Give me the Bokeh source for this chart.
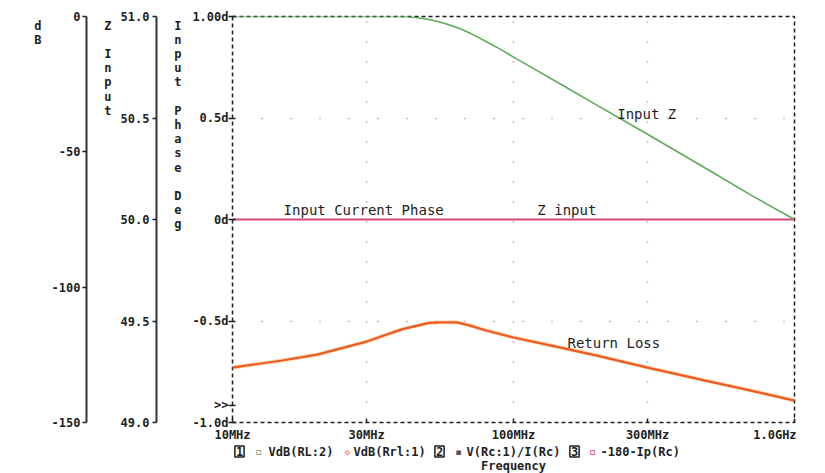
from bokeh.plotting import figure
from bokeh.models import Range1d, LinearAxis, FixedTicker, Label
from bokeh.layouts import column
from bokeh.embed import file_html
from bokeh.resources import INLINE

# ---- data ----
freq_z = [10, 20, 30, 40, 42, 45, 50, 55, 60, 65, 70, 75, 80, 90, 100, 120, 150, 200, 300,
          500, 700, 1000]
z_input = [51.0, 51.0, 51.0, 51.0, 50.999, 50.995, 50.985, 50.972, 50.956, 50.938, 50.918,
           50.897, 50.876, 50.838, 50.80, 50.737, 50.66, 50.56, 50.42, 50.24, 50.12, 50.0]

freq_rl = [10, 15, 20, 30, 40, 50, 55, 63, 70, 80, 100, 150, 200, 300, 500, 700, 1000]
return_loss_db = [-129.7, -127.1, -124.9, -120.1, -115.6, -113.2, -113.0, -113.0, -114.2,
                  -116.0, -118.6, -122.5, -125.4, -129.7, -134.9, -138.2, -141.9]

freq_ph = [10, 1000]
phase_deg = [0.0, 0.0]

x_ticks = [10, 30, 100, 300, 1000]
x_tick_labels = ["10MHz", "30MHz", "100MHz", "300MHz", "1.0GHz"]
ph_ticks = [-1.0, -0.916, -0.5, 0.0, 0.5, 1.0]
ph_tick_labels = ["-1.0d", ">>", "-0.5d", "0d", "0.5d", "1.00d"]
z_ticks = [49.0, 49.5, 50.0, 50.5, 51.0]
z_tick_labels = ["49.0", "49.5", "50.0", "50.5", "51.0"]
db_ticks = [-150, -100, -50, 0]
db_tick_labels = ["-150", "-100", "-50", "0"]

title_db = ["d", "B"]
title_z = ["Z", "", "I", "n", "p", "u", "t"]
title_phase = ["I", "n", "p", "u", "t", "", "P", "h", "a", "s", "e", "", "D", "e", "g"]

legend_items = ["VdB(RL:2)", "VdB(Rrl:1)", "V(Rc:1)/I(Rc)", "-180-Ip(Rc)"]
x_title = "Frequency"

FONT = "DejaVu Sans Mono"
INK = "#1e1e1e"
GREEN = "#5aac5a"
PINK = "#d8457a"
ORANGE = "#ee5a22"
NB = "\u00a0"

FRAME_L, FRAME_R, FRAME_T, FRAME_B = 232, 794, 16, 422
W, H_MAIN, H_LEG = 825, 444, 29

p = figure(width=W, height=H_MAIN, x_axis_type="log",
           x_range=Range1d(10, 1000), y_range=Range1d(-1, 1),
           output_backend="svg", toolbar_location=None,
           min_border_left=FRAME_L, min_border_right=W - FRAME_R,
           min_border_top=FRAME_T, min_border_bottom=H_MAIN - FRAME_B)
# "py" maps pixel rows of the frame (used only to place the stacked axis titles)
p.extra_y_ranges = {"z": Range1d(49, 51), "db": Range1d(-150, 0),
                    "py": Range1d(FRAME_B, FRAME_T)}

p.outline_line_color = INK
p.outline_line_width = 1.5
p.outline_line_dash = "4 3"
p.background_fill_color = "white"
p.border_fill_color = "white"


def style_axis(ax, ticks, labels, standoff, tick_out=4, tick_in=0):
    ax.ticker = FixedTicker(ticks=ticks)
    ax.major_label_overrides = {t: l for t, l in zip(ticks, labels)}
    ax.minor_tick_line_color = None
    ax.minor_tick_out = 0
    ax.minor_tick_in = 0
    ax.major_tick_out = tick_out
    ax.major_tick_in = tick_in
    ax.major_tick_line_color = INK if tick_out or tick_in else None
    ax.major_tick_line_width = 1.5
    ax.major_label_standoff = standoff
    ax.major_label_text_font = FONT
    ax.major_label_text_font_style = "bold"
    ax.major_label_text_font_size = "12px"
    ax.major_label_text_color = INK


def title_axis(letters, standoff, pad):
    pos, lab = [], []
    for i, ch in enumerate(letters):
        if ch:
            pos.append(FRAME_T + 9 + 14.2 * i)
            lab.append(NB * pad + ch)
    ax = LinearAxis(y_range_name="py")
    style_axis(ax, pos, lab, standoff, tick_out=0)
    ax.axis_line_color = None
    return ax


# phase axis (main, nearest the frame)
yax = p.yaxis[0]
style_axis(yax, ph_ticks, ph_tick_labels, 0, tick_out=4, tick_in=3)
yax.axis_line_color = None

p.add_layout(title_axis(title_phase, 8, 2), "left")

# Z input axis
zax = LinearAxis(y_range_name="z")
style_axis(zax, z_ticks, z_tick_labels, 3)
zax.axis_line_color = "#333333"
zax.axis_line_width = 2
p.add_layout(zax, "left")

p.add_layout(title_axis(title_z, 6, 2), "left")

# dB axis
dax = LinearAxis(y_range_name="db")
style_axis(dax, db_ticks, db_tick_labels, 2)
dax.axis_line_color = "#333333"
dax.axis_line_width = 2
p.add_layout(dax, "left")

p.add_layout(title_axis(title_db, 7, 0), "left")

# x axis
xax = p.xaxis[0]
style_axis(xax, x_ticks, x_tick_labels[:-1] + [x_tick_labels[-1] + NB * 4], 5, tick_out=0, tick_in=4)
xax.axis_line_color = None

# grid
p.xgrid.ticker = FixedTicker(ticks=x_ticks[1:-1])
p.xgrid.grid_line_color = "#555555"
p.xgrid.grid_line_alpha = 0.7
p.xgrid.grid_line_width = 1.5
p.xgrid.grid_line_dash = "1 19"
p.ygrid.ticker = FixedTicker(ticks=[-0.5, 0.5])
p.ygrid.grid_line_color = "#555555"
p.ygrid.grid_line_alpha = 0.7
p.ygrid.grid_line_width = 1.5
p.ygrid.grid_line_dash = "1 28"

# traces
p.line(freq_rl, return_loss_db, y_range_name="db", line_color="#f6b870", line_width=4, line_alpha=0.5)
p.line(freq_rl, return_loss_db, y_range_name="db", line_color=ORANGE, line_width=2.2)
p.line(freq_ph, phase_deg, line_color=PINK, line_width=2)
p.line(freq_z, z_input, y_range_name="z", line_color=GREEN, line_width=1.6)

# curve annotations (data coords)
for txt, fx, fy in [("Input Z", 234, 0.52), ("Input Current Phase", 15.2, 0.045),
                    ("Z input", 121.6, 0.045), ("Return Loss", 155.6, -0.61)]:
    p.add_layout(Label(x=fx, y=fy, text=txt, text_font=FONT, text_font_size="14px",
                       text_color=INK, text_align="left", text_baseline="middle"))

# ---- legend strip below the chart (its frame is aligned with the chart frame) ----
leg = figure(width=W, height=H_LEG, x_range=Range1d(FRAME_L, FRAME_R), y_range=Range1d(H_LEG, 0),
             output_backend="svg", toolbar_location=None, min_border=0,
             x_axis_location=None, y_axis_location=None)
leg.outline_line_color = None
leg.grid.visible = False
leg.background_fill_color = "white"
leg.border_fill_color = "white"


def llabel(x, y, text, align="center", size="12px", color=INK, **kw):
    leg.add_layout(Label(x=x, y=y, text=text, text_font=FONT, text_font_size=size,
                         text_font_style="bold", text_color=color, text_align=align,
                         text_baseline="middle", **kw))


box = dict(border_line_color=INK, border_line_width=1.5, padding=1)
ROW = 7
llabel(239, ROW, "1", **box)
llabel(258, ROW, "\u25ab", color="#6a9a6a")
llabel(268, ROW, legend_items[0], align="left")
llabel(347, ROW, "\u25c7", color=ORANGE, size="9px")
llabel(353, ROW, legend_items[1], align="left")
llabel(439, ROW, "2", **box)
llabel(458, ROW, "\u25aa", color="#555555")
llabel(466, ROW, legend_items[2], align="left")
llabel(574, ROW, "3", **box)
llabel(592, ROW, "\u25ab", color=PINK)
llabel(600, ROW, legend_items[3], align="left")
llabel((FRAME_L + FRAME_R) / 2, 21, x_title)

layout = column(p, leg, spacing=0)
open("out.html", "w").write(file_html(layout, INLINE))
